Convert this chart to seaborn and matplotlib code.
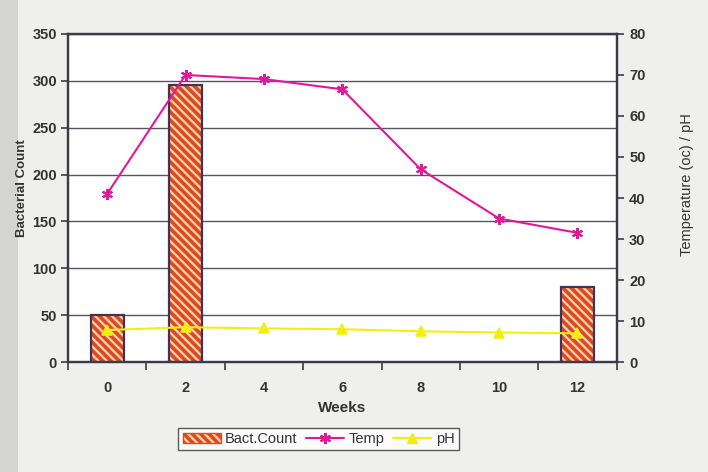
import numpy as np
import pandas as pd
import seaborn as sns
import matplotlib.pyplot as plt
from matplotlib.patches import Patch, Rectangle
from matplotlib.lines import Line2D

# data
weeks = ['0', '2', '4', '6', '8', '10', '12']
bact_count = [50, 296, np.nan, np.nan, np.nan, np.nan, 80]
temp = [41, 70, 69, 66.5, 47, 35, 31.5]
ph = [7.8, 8.5, 8.2, 8.0, 7.5, 7.2, 7.0]

df = pd.DataFrame({'Weeks': weeks, 'Bact': bact_count, 'Temp': temp, 'pH': ph})

sns.set_style('white')
plt.rcParams['font.family'] = ['Liberation Sans', 'DejaVu Sans']
plt.rcParams['hatch.linewidth'] = 2.6

ink = '#3a3a48'
hatch = '\\\\\\\\'
fig = plt.figure(figsize=(7.08, 4.72), dpi=100, facecolor='#efefed')
fig.patches.append(Rectangle((0, 0), 0.025, 1, transform=fig.transFigure,
                             facecolor='#d4d4d2', edgecolor='none', zorder=-1))
ax = fig.add_axes([0.096, 0.233, 0.775, 0.695])
ax.set_facecolor('white')

# bars (hatched red on yellow)
sns.barplot(data=df, x='Weeks', y='Bact', ax=ax, width=0.42,
            color='#fbe08a', edgecolor='#e2452e', hatch=hatch, linewidth=0,
            zorder=3)
for p in list(ax.patches):
    ax.add_patch(Rectangle(p.get_xy(), p.get_width(), p.get_height(),
                           fill=False, edgecolor='#4a3050', linewidth=1.6, zorder=4))

ax.set_ylim(0, 350)
ax.set_yticks(np.arange(0, 351, 50))
ax.yaxis.grid(True, color='#555560', linewidth=1.0)
ax.set_axisbelow(True)
ax.set_xlim(-0.5, 6.5)

ax2 = ax.twinx()
sns.pointplot(data=df, x='Weeks', y='Temp', ax=ax2, color='#e0189a',
              markers=(6, 2, 0), markersize=8, markeredgewidth=1.5,
              linewidth=1.5, errorbar=None)
sns.pointplot(data=df, x='Weeks', y='pH', ax=ax2, color='#f2ef10',
              markers='^', markersize=7, linewidth=1.5, errorbar=None)
ax2.set_ylim(0, 80)
ax2.set_yticks(np.arange(0, 81, 10))
ax2.set_xlim(-0.5, 6.5)

# x ticks between categories, labels at centres
ax.set_xticks(np.arange(-0.5, 7, 1))
ax.set_xticklabels([])
ax.set_xticks(range(len(weeks)), minor=True)
ax.set_xticklabels(weeks, minor=True)
ax.tick_params(axis='x', which='major', direction='out', length=6, width=1.2,
               color=ink, bottom=True)
ax.tick_params(axis='x', which='minor', length=0, pad=14, labelsize=10.5,
               labelcolor='#333333')
ax.tick_params(axis='y', direction='out', length=5, width=1.2, color=ink,
               left=True, labelsize=10.5, labelcolor='#333333', pad=3)
ax2.tick_params(axis='y', direction='out', length=5, width=1.2, color=ink,
                right=True, labelsize=10.5, labelcolor='#333333', pad=4)
for lab in ax.get_xticklabels(minor=True) + ax.get_yticklabels() + ax2.get_yticklabels():
    lab.set_fontweight('bold')

for a in (ax, ax2):
    for s in a.spines.values():
        s.set_color(ink)
        s.set_linewidth(1.6)

ax.set_xlabel('Weeks', fontsize=11, fontweight='bold', color='#333333', labelpad=4)
ax.set_ylabel('Bacterial Count', fontsize=9.5, fontweight='bold', color='#333333')
ax.yaxis.set_label_coords(-0.072, 0.53)
ax2.set_ylabel('Temperature (oc) / pH', fontsize=10.5, color='#333333')
ax2.yaxis.set_label_coords(1.115, 0.54)

handles = [
    Patch(facecolor='#fbe08a', edgecolor='#e2452e', hatch=hatch, label='Bact.Count'),
    Line2D([], [], color='#e0189a', marker=(6, 2, 0), markersize=8,
           markeredgewidth=1.5, linewidth=1.5, label='Temp'),
    Line2D([], [], color='#f2ef10', marker='^', markersize=7, linewidth=1.5, label='pH'),
]
leg = fig.legend(handles=handles, loc='center', bbox_to_anchor=(0.45, 0.07), ncol=3,
                 fontsize=10.5, frameon=True, fancybox=False, handlelength=2.6,
                 handletextpad=0.3, columnspacing=0.6, borderpad=0.3)
leg.get_frame().set_edgecolor('#333333')
leg.get_frame().set_linewidth(1.0)
for t in leg.get_texts():
    t.set_color('#333333')

fig.savefig('out.png', dpi=100, facecolor=fig.get_facecolor())
